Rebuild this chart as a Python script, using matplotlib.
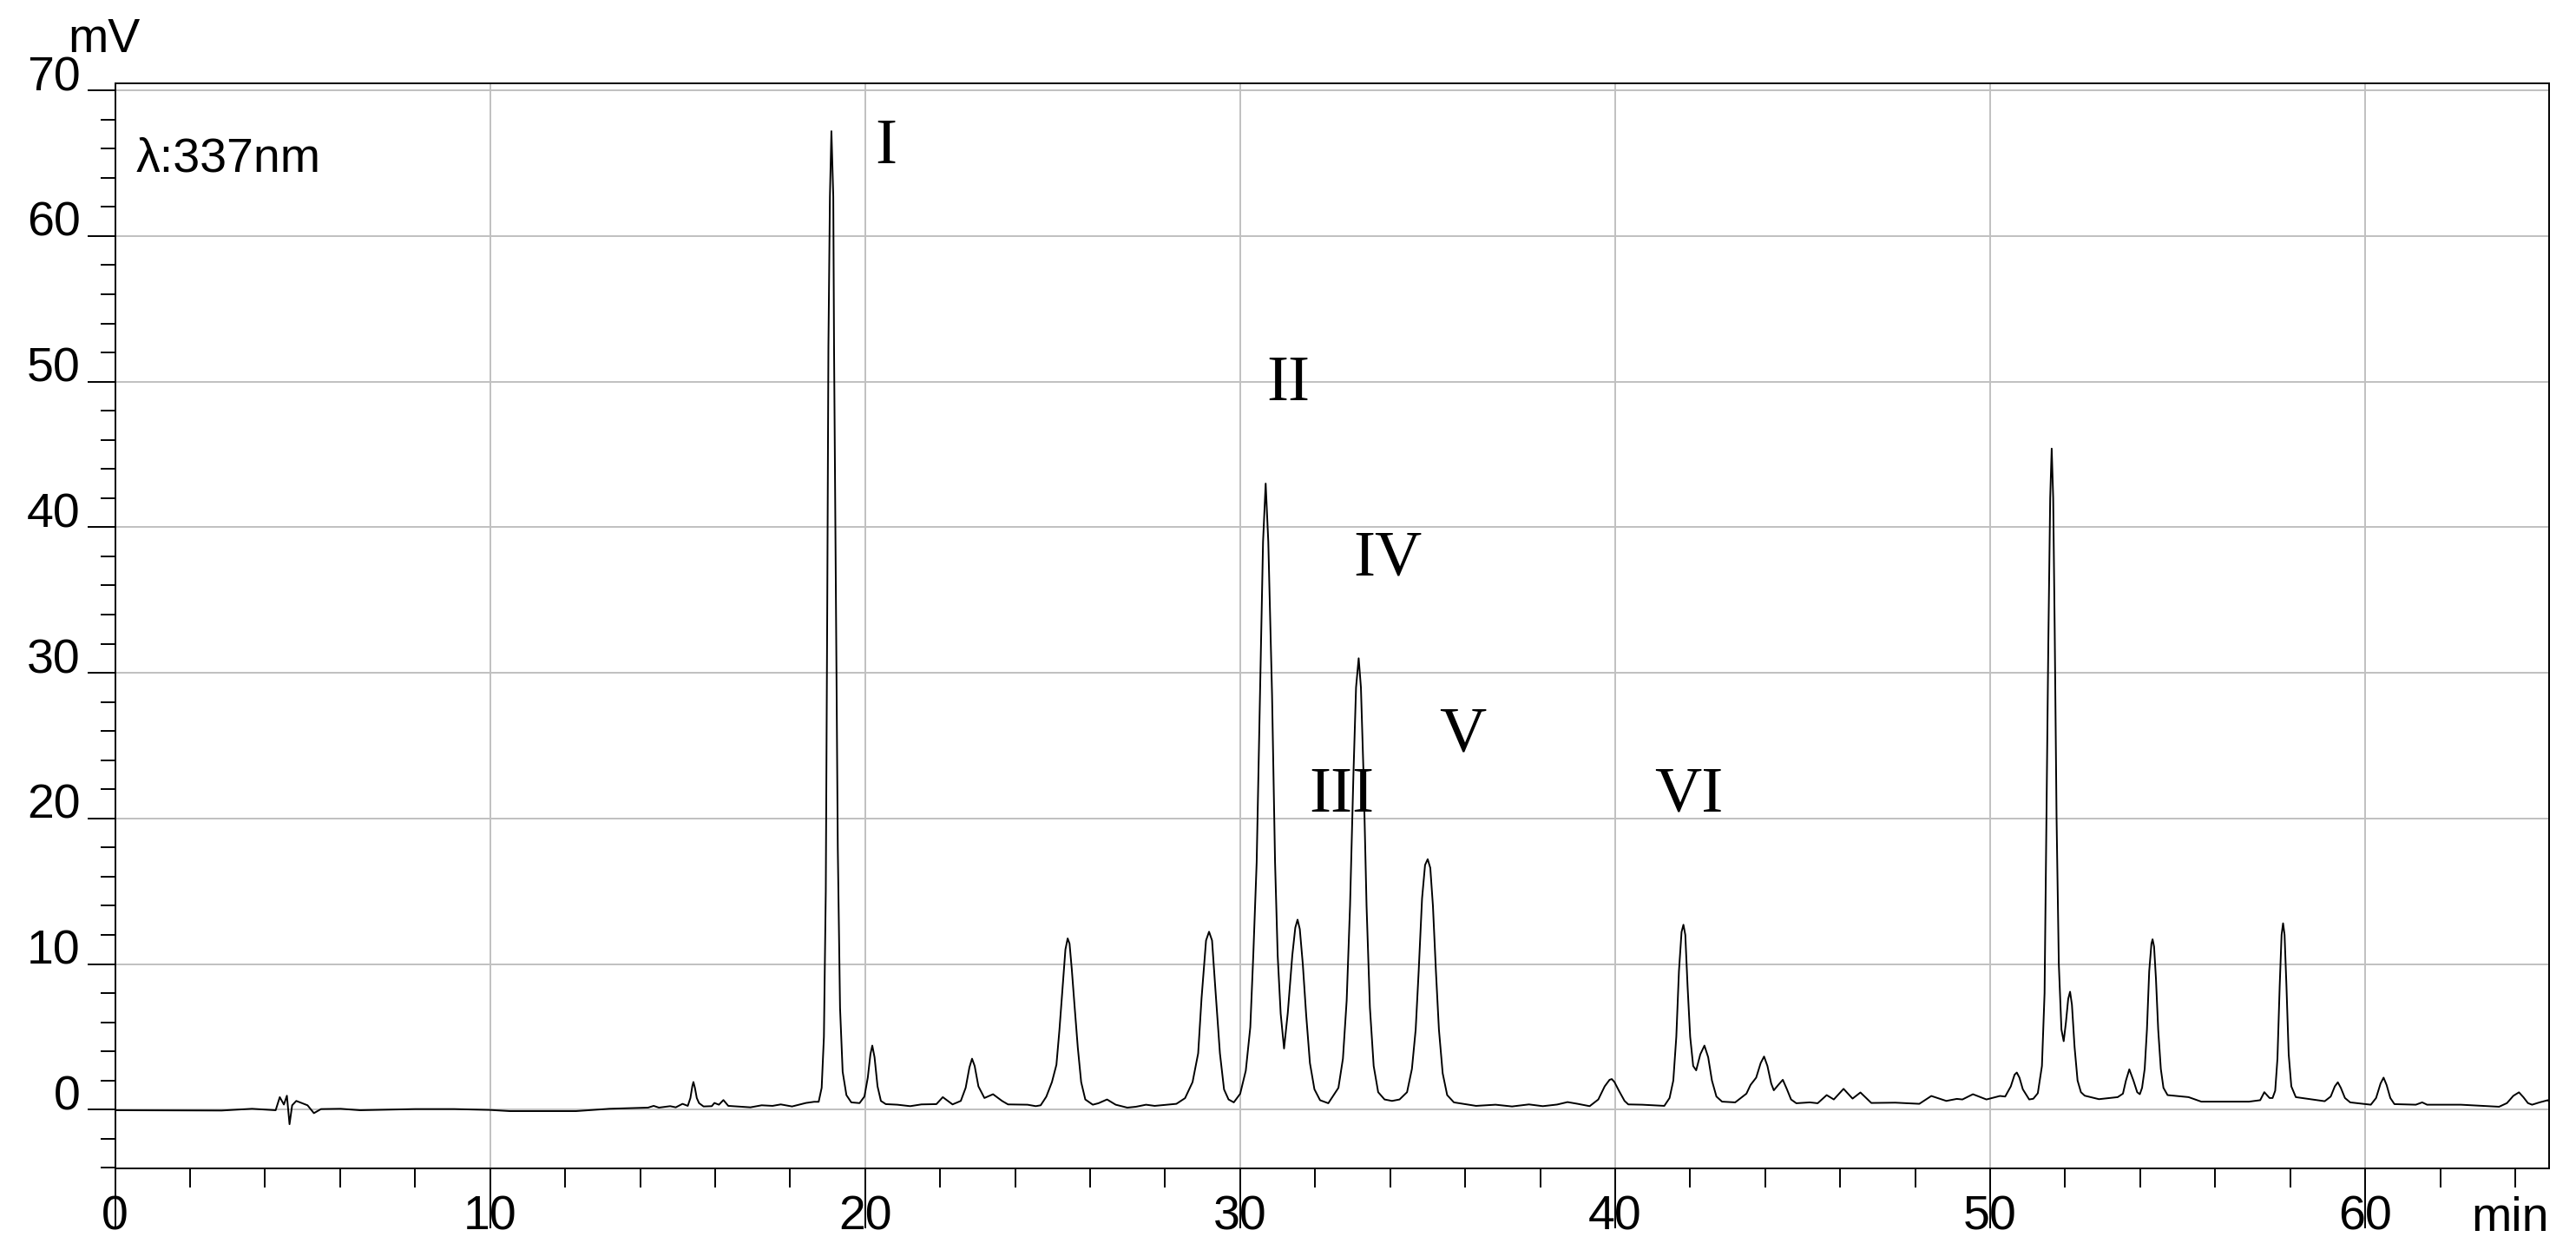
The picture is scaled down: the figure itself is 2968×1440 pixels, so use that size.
import matplotlib
matplotlib.use("Agg")
import matplotlib.pyplot as plt
from matplotlib.ticker import MultipleLocator

# chromatogram trace: (retention time in min, signal in mV)
trace_points = [
    (0.0, -0.04), (2.84, -0.06), (3.65, 0.06), (4.28, -0.04), (4.39, 0.86), (4.50, 0.35),
    (4.58, 0.96), (4.65, -1.0), (4.72, 0.3), (4.83, 0.6), (5.13, 0.3), (5.30, -0.24),
    (5.49, 0.04), (6.01, 0.06), (6.53, -0.04), (8.0, 0.04), (9.04, 0.04), (10.0, -0.02),
    (10.52, -0.1), (11.85, -0.1), (12.29, -0.1), (13.18, 0.06), (14.21, 0.14), (14.36, 0.26),
    (14.5, 0.14), (14.8, 0.24), (14.95, 0.16), (15.13, 0.4), (15.27, 0.26), (15.34, 0.8),
    (15.39, 1.6), (15.42, 1.9), (15.46, 1.5), (15.51, 0.8), (15.57, 0.45), (15.69, 0.22),
    (15.91, 0.24), (15.98, 0.46), (16.1, 0.34), (16.22, 0.66), (16.35, 0.26), (16.94, 0.16),
    (17.24, 0.3), (17.53, 0.26), (17.75, 0.36), (18.05, 0.22), (18.42, 0.46), (18.64, 0.54),
    (18.76, 0.54), (18.84, 1.5), (18.9, 5.0), (18.95, 15.0), (18.99, 35.0), (19.02, 52.4),
    (19.06, 62.7), (19.1, 67.2), (19.15, 62.7), (19.17, 52.4), (19.22, 35.0), (19.27, 18.0),
    (19.33, 7.0), (19.4, 2.6), (19.5, 1.0), (19.63, 0.5), (19.85, 0.45), (19.98, 0.9),
    (20.07, 2.2), (20.14, 3.8), (20.19, 4.4), (20.25, 3.6), (20.33, 1.6), (20.42, 0.6),
    (20.55, 0.38), (20.86, 0.34), (21.2, 0.24), (21.5, 0.36), (21.9, 0.38), (22.07, 0.86),
    (22.33, 0.36), (22.55, 0.6), (22.68, 1.5), (22.78, 2.9), (22.85, 3.5), (22.92, 3.0),
    (23.02, 1.6), (23.18, 0.8), (23.41, 1.06), (23.65, 0.6), (23.81, 0.36), (24.33, 0.34),
    (24.55, 0.24), (24.68, 0.3), (24.83, 0.89), (24.98, 1.89), (25.1, 3.08), (25.18, 5.46),
    (25.26, 8.24), (25.34, 11.0), (25.4, 11.76), (25.45, 11.4), (25.51, 9.64), (25.58, 7.25),
    (25.67, 4.27), (25.76, 1.89), (25.87, 0.7), (26.07, 0.34), (26.22, 0.44), (26.45, 0.7),
    (26.68, 0.34), (26.99, 0.14), (27.22, 0.2), (27.49, 0.34), (27.72, 0.26), (28.3, 0.4),
    (28.53, 0.79), (28.73, 1.89), (28.88, 3.87), (28.97, 7.65), (29.09, 11.62), (29.17, 12.22),
    (29.25, 11.62), (29.34, 8.24), (29.46, 3.87), (29.57, 1.39), (29.69, 0.7), (29.83, 0.5),
    (30.0, 1.09), (30.15, 2.68), (30.27, 5.66), (30.35, 10.63), (30.44, 17.0), (30.53, 28.5),
    (30.61, 39.0), (30.68, 43.0), (30.75, 39.0), (30.85, 28.5), (30.93, 17.0), (31.0, 10.6),
    (31.08, 6.6), (31.17, 4.2), (31.27, 6.66), (31.39, 10.6), (31.47, 12.5), (31.53, 13.05),
    (31.59, 12.4), (31.67, 10.0), (31.76, 6.5), (31.86, 3.2), (31.98, 1.4), (32.13, 0.65),
    (32.35, 0.44), (32.62, 1.5), (32.74, 3.5), (32.84, 7.5), (32.93, 14.0), (33.02, 23.0),
    (33.09, 29.0), (33.16, 31.0), (33.22, 29.0), (33.29, 23.0), (33.37, 14.0), (33.46, 7.0),
    (33.56, 3.0), (33.68, 1.2), (33.85, 0.7), (34.05, 0.6), (34.25, 0.7), (34.45, 1.2),
    (34.58, 2.8), (34.68, 5.5), (34.76, 9.5), (34.85, 14.5), (34.93, 16.8), (35.0, 17.2),
    (35.07, 16.6), (35.14, 14.0), (35.22, 9.5), (35.3, 5.5), (35.4, 2.5), (35.52, 1.0),
    (35.7, 0.5), (36.29, 0.26), (36.81, 0.34), (37.25, 0.22), (37.7, 0.36), (38.07, 0.24),
    (38.45, 0.35), (38.73, 0.52), (39.0, 0.4), (39.32, 0.24), (39.55, 0.7), (39.72, 1.6),
    (39.85, 2.05), (39.91, 2.1), (39.98, 1.9), (40.1, 1.3), (40.25, 0.6), (40.35, 0.36),
    (40.72, 0.34), (41.31, 0.26), (41.45, 0.8), (41.55, 2.0), (41.63, 5.0), (41.7, 9.5),
    (41.77, 12.2), (41.82, 12.7), (41.87, 12.0), (41.93, 8.5), (42.0, 5.0), (42.08, 3.0),
    (42.16, 2.7), (42.27, 3.8), (42.38, 4.4), (42.48, 3.6), (42.58, 2.0), (42.7, 0.9),
    (42.85, 0.55), (43.2, 0.5), (43.5, 1.1), (43.61, 1.7), (43.76, 2.2), (43.88, 3.2),
    (43.97, 3.65), (44.06, 3.0), (44.16, 1.8), (44.23, 1.33), (44.35, 1.7), (44.47, 2.05),
    (44.58, 1.4), (44.69, 0.7), (44.83, 0.44), (45.19, 0.5), (45.4, 0.44), (45.64, 1.0),
    (45.83, 0.7), (46.09, 1.43), (46.33, 0.76), (46.54, 1.18), (46.83, 0.46), (47.47, 0.48),
    (48.11, 0.4), (48.43, 0.94), (48.83, 0.6), (49.11, 0.74), (49.26, 0.7), (49.54, 1.06),
    (49.9, 0.7), (50.26, 0.94), (50.4, 0.9), (50.55, 1.6), (50.65, 2.4), (50.71, 2.55),
    (50.78, 2.2), (50.87, 1.4), (51.04, 0.7), (51.15, 0.75), (51.27, 1.13), (51.38, 3.0),
    (51.45, 8.0), (51.5, 20.0), (51.55, 32.0), (51.6, 42.0), (51.64, 45.4), (51.68, 42.0),
    (51.72, 33.0), (51.77, 20.0), (51.83, 10.0), (51.9, 5.5), (51.96, 4.7), (52.02, 6.0),
    (52.08, 7.6), (52.13, 8.1), (52.18, 7.2), (52.25, 4.3), (52.33, 2.0), (52.42, 1.2),
    (52.52, 0.96), (52.9, 0.72), (53.4, 0.86), (53.54, 1.1), (53.62, 2.0), (53.71, 2.77),
    (53.82, 2.0), (53.92, 1.2), (53.99, 1.06), (54.05, 1.5), (54.12, 2.8), (54.18, 5.5),
    (54.24, 9.5), (54.3, 11.4), (54.33, 11.7), (54.37, 11.2), (54.42, 9.0), (54.48, 5.5),
    (54.55, 2.8), (54.62, 1.5), (54.73, 1.0), (55.29, 0.86), (55.63, 0.55), (56.9, 0.55),
    (57.2, 0.65), (57.31, 1.2), (57.45, 0.8), (57.53, 0.8), (57.6, 1.3), (57.66, 3.5),
    (57.72, 8.5), (57.77, 12.0), (57.81, 12.8), (57.85, 12.0), (57.9, 8.5), (57.96, 3.8),
    (58.03, 1.6), (58.15, 0.86), (58.92, 0.58), (59.08, 0.9), (59.19, 1.6), (59.27, 1.88),
    (59.35, 1.5), (59.46, 0.8), (59.6, 0.5), (60.15, 0.34), (60.29, 0.8), (60.41, 1.8),
    (60.49, 2.2), (60.57, 1.7), (60.67, 0.8), (60.78, 0.38), (61.35, 0.34), (61.52, 0.5),
    (61.65, 0.34), (62.55, 0.34), (63.57, 0.2), (63.78, 0.45), (63.95, 0.95), (64.1, 1.19),
    (64.22, 0.85), (64.34, 0.45), (64.45, 0.34), (64.65, 0.5), (64.87, 0.65), (65.0, 0.27),
]
time_min = [p[0] for p in trace_points]
signal_mv = [p[1] for p in trace_points]

# peak labels: text, time, baseline height
peak_names = ["I", "II", "III", "IV", "V", "VI"]
peak_label_x = [20.56, 31.27, 32.71, 33.93, 35.93, 41.97]
peak_label_y = [65.0, 48.75, 20.47, 36.72, 24.6, 20.47]

x_ticks = [0, 10, 20, 30, 40, 50, 60]
y_ticks = [0, 10, 20, 30, 40, 50, 60, 70]

plt.rcParams['font.family'] = ['Liberation Sans', 'DejaVu Sans']

fig = plt.figure(figsize=(29.68, 14.4), dpi=100)
ax = fig.add_axes([0.0447, 0.0651, 0.9448, 0.8684])

ax.plot(time_min, signal_mv, color='black', linewidth=1.4)

ax.set_xlim(0, 64.9)
ax.set_ylim(-4.05, 70.5)

ax.set_xticks(x_ticks)
ax.set_yticks(y_ticks)
ax.xaxis.set_minor_locator(MultipleLocator(2))
ax.yaxis.set_minor_locator(MultipleLocator(2))
ax.grid(True, which='major', color='#c0c0c0', linewidth=1.4)
ax.set_axisbelow(True)

# long major x ticks run down through the labels, as in the original
ax.tick_params(axis='x', which='major', direction='out', length=50, width=1.4,
               pad=-28, labelsize=40)
ax.tick_params(axis='x', which='minor', direction='out', length=16, width=1.4)
ax.tick_params(axis='y', which='major', direction='out', length=23, width=1.4,
               pad=6, labelsize=40)
ax.tick_params(axis='y', which='minor', direction='out', length=12, width=1.4)
for lab in ax.get_yticklabels():
    lab.set_verticalalignment('baseline')

for side in ['left', 'right', 'top', 'bottom']:
    ax.spines[side].set_color('black')
    ax.spines[side].set_linewidth(1.4)

for name, px, py in zip(peak_names, peak_label_x, peak_label_y):
    ax.text(px, py, name, ha='center', va='baseline', fontsize=54,
            family=['Liberation Serif', 'DejaVu Serif'])

ax.text(0.56, 64.45, "λ:337nm", ha='left', va='baseline', fontsize=40)
fig.text(78 / 2968, 1 - 60 / 1440, "mV", ha='left', va='baseline', fontsize=40)
fig.text(2937 / 2968, 1 - 1418 / 1440, "min", ha='right', va='baseline', fontsize=40)

fig.savefig("out.png", dpi=100)
